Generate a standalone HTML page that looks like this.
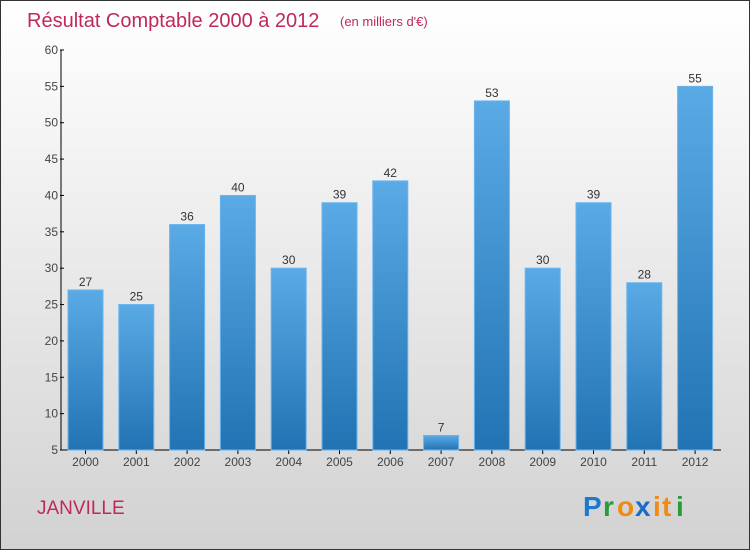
<!DOCTYPE html>
<html><head><meta charset="utf-8"><style>
html,body{margin:0;padding:0}
body{width:750px;height:550px;overflow:hidden;font-family:"Liberation Sans",sans-serif}
#wrap{position:absolute;left:0;top:0;width:748px;height:548px;border:1px solid #333;background:linear-gradient(#ffffff,#f2f2f2 30%,#d2d2d2)}
</style></head><body>
<div id="wrap">
<svg id="chart" width="750" height="550" style="position:absolute;left:-1px;top:-1px">
<defs><linearGradient id="bg" x1="0" y1="0" x2="0" y2="1"><stop offset="0" stop-color="#5aaae6"/><stop offset="1" stop-color="#2273b3"/></linearGradient></defs>
<text x="27" y="27" font-size="20" fill="#c0285a">Résultat Comptable 2000 à 2012</text>
<text x="340" y="26" font-size="13" fill="#c0285a">(en milliers d'€)</text>
<text x="37" y="514" font-size="19" fill="#c0285a">JANVILLE</text>
<g font-size="28" font-weight="bold" font-family="Liberation Sans,sans-serif">
<text x="583" y="516" fill="#1a7ad0">P</text><text x="603" y="516" fill="#2a9a3a">r</text><text x="617" y="516" fill="#f08a10">o</text><text x="635" y="516" fill="#1a6cc8">x</text><text x="653" y="516" fill="#f08a10">i</text><text x="662" y="516" fill="#f08a10">t</text><text x="676" y="516" fill="#2a9a3a">i</text>
</g>
<g id="axes"></g><g id="bars"></g>
</svg></div>
<script>
const categories=["2000","2001","2002","2003","2004","2005","2006","2007","2008","2009","2010","2011","2012"];
const values=[27,25,36,40,30,39,42,7,53,30,39,28,55];
const yTicks=[5,10,15,20,25,30,35,40,45,50,55,60];
const NS="http://www.w3.org/2000/svg";
const yMin=5,yMax=60,yTop=50,yBot=450,x0=61;
const yS=v=>yBot-(v-yMin)/(yMax-yMin)*(yBot-yTop);
const xc=i=>85.5+i*50.8;
function mk(t,a,p){const e=document.createElementNS(NS,t);for(const k in a)e.setAttribute(k,a[k]);p.appendChild(e);return e;}
const ax=document.getElementById('axes'),bs=document.getElementById('bars');
const yl=mk('line',{x1:x0,y1:yTop,x2:x0,y2:yBot,stroke:'#000','stroke-width':1},ax);


const xl=mk('line',{x1:x0,y1:yBot,x2:721,y2:yBot,stroke:'#000','stroke-width':1},ax);


yTicks.forEach(v=>{
 mk('line',{x1:x0-1,y1:yS(v),x2:x0+3,y2:yS(v),stroke:'#000'},ax);
 const t=mk('text',{x:x0-3,y:yS(v)+4,'text-anchor':'end','font-size':12,fill:'#444'},ax);t.textContent=v;
 
 
});
categories.forEach((c,i)=>{
 const r=mk('rect',{x:xc(i)-17.5,y:yS(values[i]),width:35,height:yBot-yS(values[i]),fill:'url(#bg)',stroke:'#6ab4ee','stroke-width':1},bs);
 
 
 const l=mk('text',{x:xc(i),y:yS(values[i])-4,'text-anchor':'middle','font-size':12,fill:'#333'},bs);l.textContent=values[i];
 
 
 mk('line',{x1:xc(i),y1:yBot,x2:xc(i),y2:yBot+4,stroke:'#000'},ax);
 const t=mk('text',{x:xc(i),y:yBot+16,'text-anchor':'middle','font-size':12,fill:'#444'},ax);t.textContent=c;
 
 
});
</script>
</body></html>
